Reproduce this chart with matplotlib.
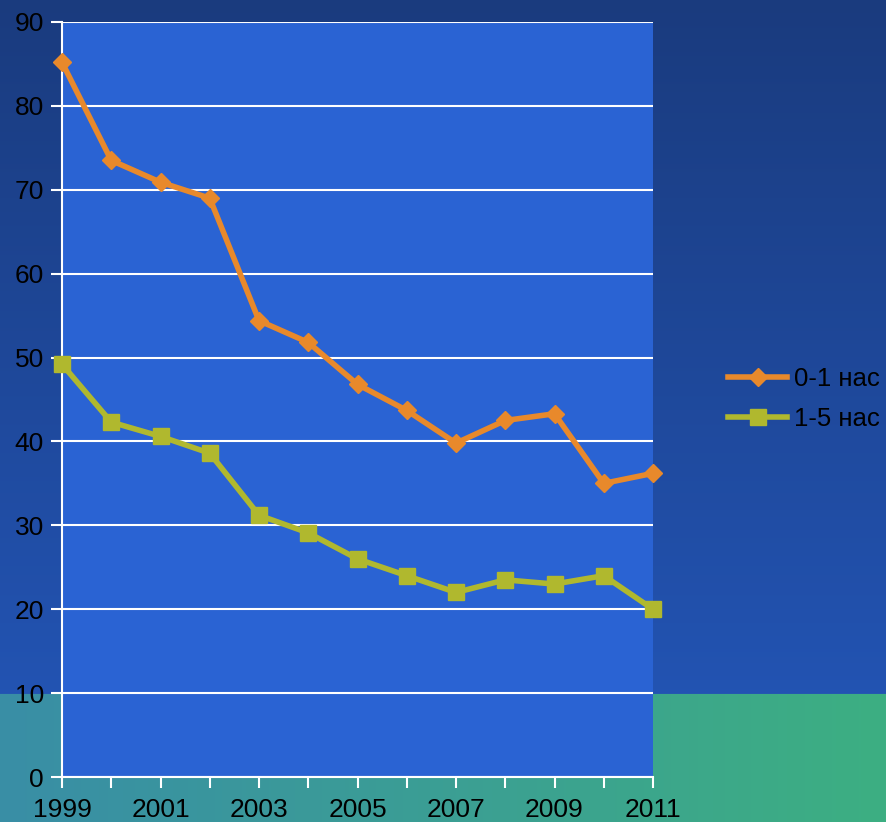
import numpy as np
import matplotlib
matplotlib.use("Agg")
import matplotlib.pyplot as plt

years = list(range(1999, 2012))
infant = [85.2, 73.5, 70.9, 69.0, 54.4, 51.8, 46.8, 43.7, 39.8, 42.5, 43.3, 35.0, 36.2]
child = [49.2, 42.3, 40.6, 38.6, 31.2, 29.1, 26.0, 24.0, 22.0, 23.5, 23.0, 24.0, 20.0]
labels = ["0-1 нас", "1-5 нас"]
xtick_labels = [str(y) if (y - 1999) % 2 == 0 else "" for y in years]

plt.rcParams['font.family'] = ['Liberation Sans', 'DejaVu Sans']

W, H = 886, 822
fig = plt.figure(figsize=(W / 100, H / 100), dpi=100)

# background gradient
bg = np.zeros((H, W, 3))
yy = np.linspace(0, 1, H)[:, None]
xx = np.linspace(0, 1, W)[None, :]
top = np.array([0x1A, 0x3B, 0x7E]) / 255
bot = np.array([0x24, 0x58, 0xBC]) / 255
blue = top + (bot - top) * (yy[..., None] * np.ones((1, W, 1)))
gl = np.array([0x39, 0x8E, 0xA6]) / 255
gr = np.array([0x3D, 0xAF, 0x82]) / 255
green = gl + (gr - gl) * (xx[..., None] * np.ones((H, 1, 1)))
split = 694
bg[:split] = blue[:split]
bg[split:] = green[split:]
bax = fig.add_axes([0, 0, 1, 1], zorder=-1)
bax.imshow(bg, aspect='auto', extent=[0, 1, 0, 1])
bax.axis('off')

ax = fig.add_axes([62 / W, 1 - 777 / H, (653 - 62) / W, (777 - 22) / H])
ax.set_facecolor('#2A63D3')
ax.plot(years, infant, color='#E8892B', lw=4, marker='D', ms=9, label=labels[0], clip_on=False, zorder=3)
ax.plot(years, child, color='#B0B82E', lw=4, marker='s', ms=11, label=labels[1], clip_on=False, zorder=3)
ax.set_xlim(1999, 2011)
ax.set_ylim(0, 90)
ax.set_yticks(range(0, 91, 10))
ax.set_xticks(years)
ax.set_xticklabels(xtick_labels)
ax.grid(axis='y', color='white', lw=1.5)
ax.set_axisbelow(True)
for s in ['top', 'right']:
    ax.spines[s].set_visible(False)
for s in ['left', 'bottom']:
    ax.spines[s].set_color('white')
    ax.spines[s].set_linewidth(1.5)
ax.tick_params(colors='white', length=8, width=1.5, labelsize=19, labelcolor='black')
ax.tick_params(axis='x', pad=7)
ax.tick_params(axis='y', pad=5)

fig.legend(loc='center left', bbox_to_anchor=(705 / W, 1 - 399 / H), frameon=False,
           fontsize=18.5, handlelength=2.3, handletextpad=0.25, labelspacing=0.62)

fig.savefig('out.png', dpi=100)
